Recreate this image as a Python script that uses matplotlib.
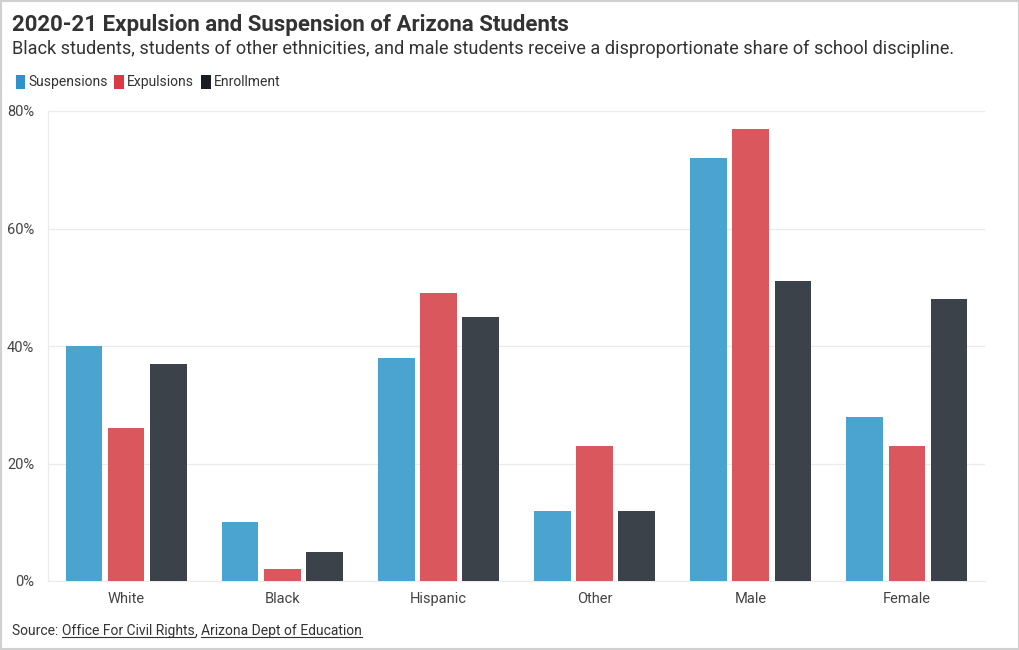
import matplotlib.pyplot as plt
from matplotlib.patches import Patch
from matplotlib.lines import Line2D
import numpy as np

plt.rcParams['font.family'] = ['Roboto', 'DejaVu Sans']

# data
categories = ['White', 'Black', 'Hispanic', 'Other', 'Male', 'Female']
suspensions = [40, 10, 38, 12, 72, 28]
expulsions = [26, 2, 49, 23, 77, 23]
enrollment = [37, 5, 45, 12, 51, 48]
series_names = ['Suspensions', 'Expulsions', 'Enrollment']
yticks = [0, 20, 40, 60, 80]

bar_colors = ['#4BA3D0', '#D9575D', '#3C424A']
legend_colors = ['#2F93CB', '#D93A46', '#181D23']

fig = plt.figure(figsize=(10.2, 6.5), dpi=100)
ax = fig.add_axes([48 / 1020, 69 / 650, 937 / 1020, 470 / 650])

x = np.arange(len(categories))
w = 0.235
step = 0.27
for i, vals in enumerate([suspensions, expulsions, enrollment]):
    ax.bar(x + (i - 1) * step, vals, width=w, color=bar_colors[i], zorder=3)

ax.set_xlim(-0.5, len(categories) - 0.5)
ax.set_ylim(0, 80)
ax.set_yticks(yticks)
ax.set_yticklabels([f'{t}%' for t in yticks])
ax.set_xticks(x)
ax.set_xticklabels(categories)
ax.tick_params(axis='both', length=0, labelsize=10.5, labelcolor='#444444')
ax.tick_params(axis='y', pad=10)
ax.tick_params(axis='x', pad=8)
ax.grid(axis='y', color='#EBEBEB', linewidth=0.9, zorder=0)
for s in ['top', 'right']:
    ax.spines[s].set_visible(False)
ax.spines['left'].set_color('#EBEBEB')
ax.spines['bottom'].set_color('#EBEBEB')

# titles
fig.text(12 / 1020, 1 - 25 / 650, '2020-21 Expulsion and Suspension of Arizona Students',
         fontsize=16, fontweight='bold', color='#333333', va='center')
fig.text(12 / 1020, 1 - 48.5 / 650,
         'Black students, students of other ethnicities, and male students receive a disproportionate share of school discipline.',
         fontsize=13.1, color='#333333', va='center')

# legend
handles = [Patch(facecolor=c, edgecolor='none') for c in legend_colors]
fig.legend(handles, series_names, loc='center left', bbox_to_anchor=(3 / 1020, 1 - 82 / 650),
           ncol=3, frameon=False, handlelength=0.7, handleheight=1.2, handletextpad=0.2,
           columnspacing=0.5, fontsize=10, labelcolor='#333333')

# source with underlined links
fig.canvas.draw()
renderer = fig.canvas.get_renderer()
parts = [('Source: ', False), ('Office For Civil Rights', True), (', ', False),
         ('Arizona Dept of Education', True)]
xpos = 12 / 1020
ypos = 1 - 631 / 650
for txt, under in parts:
    t = fig.text(xpos, ypos, txt, fontsize=10, color='#333333', va='center')
    bb = t.get_window_extent(renderer).transformed(fig.transFigure.inverted())
    if under:
        fig.add_artist(Line2D([bb.x0, bb.x1], [bb.y0 + 0.002, bb.y0 + 0.002],
                              color='#333333', linewidth=0.8, transform=fig.transFigure))
    xpos = bb.x1

# light border
fig.add_artist(plt.Rectangle((0.001, 0.001), 0.998, 0.998, fill=False, edgecolor='#D0D0D0',
                             linewidth=1.5, transform=fig.transFigure))

fig.savefig('out.png', dpi=100)
